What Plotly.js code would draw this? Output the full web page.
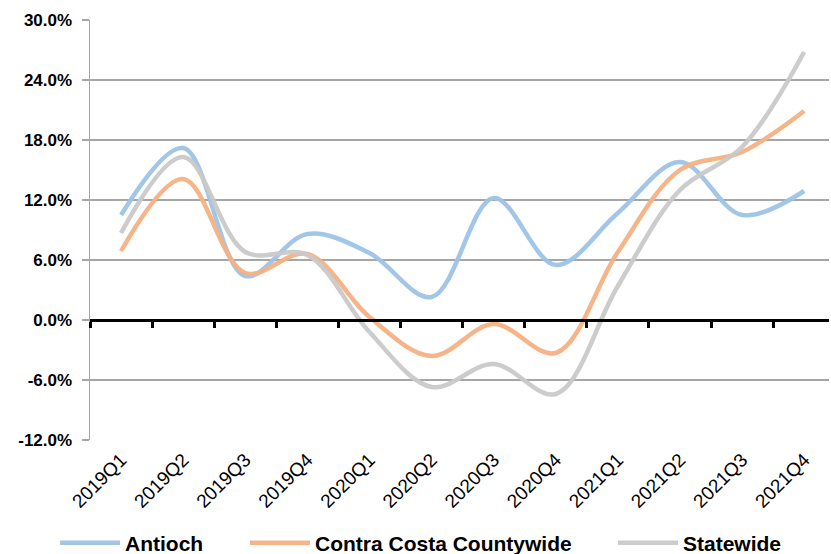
<!DOCTYPE html>
<html>
<head>
<meta charset="utf-8">
<script src="https://cdn.plot.ly/plotly-3.0.1.min.js"></script>
<style>html,body{margin:0;padding:0;background:#fff;}#chart{width:831px;height:554px;}</style>
</head>
<body>
<div id="chart"></div>
<script>
const quarters = ["2019Q1","2019Q2","2019Q3","2019Q4","2020Q1","2020Q2","2020Q3","2020Q4","2021Q1","2021Q2","2021Q3","2021Q4"];
const antioch = [10.5, 17.2, 4.4, 8.6, 6.7, 2.3, 12.2, 5.5, 10.7, 15.8, 10.5, 12.9];
const contraCosta = [6.9, 14.1, 4.7, 6.6, 0.3, -3.6, -0.4, -3.3, 6.8, 15.0, 16.8, 20.9];
const statewide = [8.7, 16.3, 6.8, 6.5, -1.2, -6.7, -4.4, -7.4, 3.4, 13.0, 17.3, 26.8];
const yTicks = [-12, -6, 0, 6, 12, 18, 24, 30];
const yTickText = yTicks.map(v => v.toFixed(1) + "%");

const seriesNames = ["Antioch", "Contra Costa Countywide", "Statewide"];
const seriesColors = ["rgb(157,195,230)", "rgb(244,177,131)", "rgb(201,201,201)"];
const seriesData = [antioch, contraCosta, statewide];
const legendIds = ["legend", "legend2", "legend3"];

const FONT = "Liberation Sans, Arial, sans-serif";

const traces = seriesData.map((vals, i) => ({
  type: "scatter",
  mode: "lines",
  name: seriesNames[i],
  legend: legendIds[i],
  x: quarters,
  y: vals,
  line: {color: seriesColors[i], width: 4.5, shape: "spline", smoothing: 1},
  opacity: 0.95,
  hoverinfo: "skip"
}));
traces.push({
  type: "scatter", mode: "lines", x: quarters, y: quarters.map(() => null),
  xaxis: "x2", yaxis: "y", showlegend: false, hoverinfo: "skip"
});

function legendAt(px) {
  return {
    orientation: "h", xref: "container", yref: "container",
    x: px / 831, xanchor: "left", y: 11 / 554, yanchor: "middle",
    font: {size: 21, family: FONT, weight: "bold", color: "#000"},
    bgcolor: "rgba(0,0,0,0)", borderwidth: 0, itemwidth: 60
  };
}

const layout = {
  width: 831, height: 554,
  margin: {l: 90, r: 2, t: 20, b: 114},
  paper_bgcolor: "#fff", plot_bgcolor: "#fff",
  font: {family: FONT, color: "#000"},
  showlegend: true,
  legend: legendAt(55),
  legend2: legendAt(245),
  legend3: legendAt(613),
  xaxis: {
    type: "category", categoryorder: "array", categoryarray: quarters,
    range: [-0.5, 11.4], showgrid: false, zeroline: false, showline: false,
    ticks: "", tickangle: -45, tickfont: {size: 19, family: FONT},
    ticklabelstandoff: 4,
    automargin: false, fixedrange: true
  },
  xaxis2: {
    type: "category", categoryorder: "array", categoryarray: quarters,
    overlaying: "x", anchor: "free", position: 12/42,
    range: [-0.5, 11.4], showgrid: false, zeroline: false,
    showline: true, linecolor: "#000", linewidth: 3,
    ticks: "outside", tickson: "boundaries", ticklen: 6, tickwidth: 3, tickcolor: "#000",
    showticklabels: false, automargin: false, fixedrange: true
  },
  yaxis: {
    range: [-12, 30], tickmode: "array", tickvals: yTicks, ticktext: yTickText,
    showgrid: true, gridcolor: "#a6a6a6", gridwidth: 1.5,
    zeroline: false, showline: true, linecolor: "#a6a6a6", linewidth: 1.5,
    ticks: "outside", ticklen: 7, tickcolor: "#a6a6a6", tickwidth: 1.5,
    ticklabelstandoff: 6,
    tickfont: {size: 17, family: FONT, weight: "bold"},
    automargin: false, fixedrange: true
  }
};

Plotly.newPlot("chart", traces, layout, {displayModeBar: false, staticPlot: true});
</script>
</body>
</html>
